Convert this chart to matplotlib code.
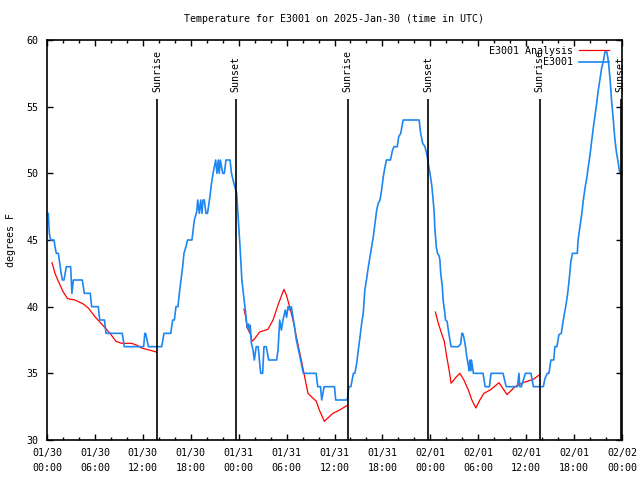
import numpy as np
import matplotlib
matplotlib.use('Agg')
import matplotlib.pyplot as plt
from matplotlib.ticker import MultipleLocator

# hours since 2025-01-30 00:00 UTC
tick_hours = [0, 6, 12, 18, 24, 30, 36, 42, 48, 54, 60, 66, 72]
tick_labels = ['01/30\n00:00', '01/30\n06:00', '01/30\n12:00', '01/30\n18:00',
               '01/31\n00:00', '01/31\n06:00', '01/31\n12:00', '01/31\n18:00',
               '02/01\n00:00', '02/01\n06:00', '02/01\n12:00', '02/01\n18:00',
               '02/02\n00:00']

sun_hours = [13.77, 23.65, 37.67, 47.7, 61.7, 71.85]
sun_labels = ['Sunrise', 'Sunset', 'Sunrise', 'Sunset', 'Sunrise', 'Sunset']

obs_hours = [0.0, 0.16, 0.29, 0.46, 0.88, 1.0, 1.17, 1.42, 1.59, 1.71, 1.92, 2.13, 2.42, 2.96,
             3.12, 3.3, 4.42, 4.67, 5.42, 5.59, 6.42, 6.6, 7.2, 7.39, 9.43, 9.68, 12.1, 12.25,
             12.35, 12.7, 14.36, 14.65, 15.49, 15.74, 15.95, 16.15, 16.4, 16.57, 16.78, 16.99,
             17.15, 17.4, 17.6, 18.15, 18.3, 18.45, 18.74, 18.87, 19.07, 19.25, 19.4, 19.54,
             19.7, 19.9, 20.1, 20.4, 20.6, 20.8, 21.12, 21.29, 21.45, 21.57, 21.7, 22.0, 22.2,
             22.41, 22.92, 23.1, 23.4, 23.75, 23.96, 24.17, 24.4, 24.67, 24.83, 24.96, 25.1,
             25.25, 25.35, 25.45, 25.59, 25.8, 25.96, 26.2, 26.45, 26.67, 26.76, 27.0, 27.17,
             27.45, 27.76, 28.76, 28.93, 29.14, 29.35, 29.55, 29.84, 30.0, 30.18, 30.4, 30.6,
             30.8, 31.0, 31.22, 31.5, 31.76, 31.93, 32.1, 33.7, 33.9, 34.25, 34.4, 34.7, 36.0,
             36.15, 37.6, 37.8, 38.05, 38.28, 38.37, 38.55, 38.78, 38.98, 39.2, 39.4, 39.6,
             39.8, 40.0, 40.24, 40.45, 40.66, 40.86, 41.07, 41.28, 41.48, 41.7, 41.9, 42.11,
             42.3, 42.5, 43.0, 43.27, 43.45, 43.86, 44.04, 44.29, 44.6, 46.6, 46.79, 47.04,
             47.33, 47.62, 47.8, 47.96, 48.2, 48.46, 48.58, 48.75, 48.9, 49.1, 49.2, 49.3,
             49.5, 49.6, 49.8, 49.9, 50.1, 50.25, 50.38, 50.6, 51.5, 51.8, 51.95, 52.05, 52.2,
             52.4, 52.6, 52.76, 52.85, 52.95, 53.05, 53.15, 53.4, 54.6, 54.86, 55.4, 55.6,
             57.1, 57.5, 58.9, 59.1, 59.2, 59.4, 59.9, 60.6, 60.9, 62.15, 62.35, 62.65, 62.85,
             63.1, 63.45, 63.6, 63.85, 64.1, 64.4, 64.65, 64.95, 65.2, 65.4, 65.6, 65.8, 66.4,
             66.5, 66.74, 66.95, 67.16, 67.37, 67.58, 67.78, 68.0, 68.2, 68.4, 68.6, 68.8,
             69.0, 69.25, 69.45, 69.66, 69.87, 70.1, 70.3, 70.5, 70.7, 70.9, 71.1, 71.3, 71.5,
             71.7]
obs_temps = [47.0, 47.0, 45.5, 45.0, 45.0, 44.5, 44.0, 44.0, 43.25, 42.75, 42.0, 42.0, 43.0, 43.0,
             41.0, 42.0, 42.0, 41.0, 41.0, 40.0, 40.0, 39.0, 39.0, 38.0, 38.0, 37.0, 37.0, 38.0,
             38.0, 37.0, 37.0, 38.0, 38.0, 39.0, 39.0, 40.0, 40.0, 41.0, 42.0, 43.0,
             44.0, 44.5, 45.0, 45.0, 45.75, 46.5, 47.1, 48.0, 47.0, 48.0, 47.0, 48.0,
             48.0, 47.0, 47.0, 48.25, 49.25, 50.0, 51.0, 50.0, 51.0, 50.0, 51.0, 50.0, 50.0,
             51.0, 51.0, 50.0, 49.25, 48.5, 46.5, 44.5, 42.0, 40.6, 39.75, 39.0, 38.4,
             38.7, 38.2, 38.6, 37.25, 36.75, 36.0, 37.0, 37.0, 35.5, 35.0, 35.0, 37.0,
             37.0, 36.0, 36.0, 36.75, 39.0, 38.25, 39.0, 39.75, 39.2, 40.0, 39.75, 40.0,
             39.2, 38.5, 37.5, 36.75, 36.0, 35.5, 35.0, 35.0, 34.0, 34.0, 33.0, 34.0, 34.0,
             33.0, 33.0, 34.0, 34.0, 34.75, 35.0, 35.0, 35.75, 36.75, 37.75, 38.75, 39.5,
             41.25, 42.0, 43.0, 43.75, 44.5, 45.25, 46.25, 47.25, 47.75, 48.0, 48.75, 49.75,
             50.4, 51.0, 51.0, 51.75, 52.0, 52.0, 52.75, 53.0, 54.0, 54.0, 53.0, 52.25,
             52.0, 51.25, 50.5, 50.0, 49.0, 47.25, 45.75, 44.5, 44.0, 43.8, 43.5, 42.5,
             41.5, 40.5, 39.6, 39.0, 38.9, 38.25, 37.75, 37.0, 37.0, 37.2, 38.0, 38.0, 37.7,
             37.0, 36.1, 35.6, 35.2, 36.0, 35.2, 36.0, 35.0, 35.0, 34.0, 34.0, 35.0,
             35.0, 34.0, 34.0, 35.0, 34.0, 34.0, 35.0, 35.0, 34.0, 34.0, 34.6, 35.0, 35.0,
             36.0, 36.0, 37.0, 37.0, 37.9, 38.0, 39.0, 40.0, 41.0, 42.1, 43.4, 44.0, 44.0,
             45.0, 46.0, 46.9, 48.0, 48.9, 49.6, 50.5, 51.4, 52.4, 53.4, 54.25, 55.1,
             56.1, 57.1, 57.9, 58.4, 59.1, 59.1, 58.4, 57.1, 55.4, 54.1, 52.6, 51.6, 50.9,
             50.1]

# analysis series, nan separates the three runs
ana_hours = [0.63, 1.0, 1.42, 2.04, 2.58, 3.5, 4.55, 5.17, 6.0, 6.84, 7.89, 8.64, 9.35, 10.6,
             11.3, 11.86, 13.7, np.nan,
             24.67, 24.88, 25.04, 25.5, 25.67, 26.0, 26.63, 27.67, 28.3, 29.0, 29.67, 29.96,
             30.38, 30.8, 31.22, 31.84, 32.26, 32.68, 33.1, 33.72, 34.1, 34.73, 35.8, 36.65,
             37.6, np.nan,
             48.63, 49.0, 49.4, 49.75, 50.05, 50.35, 50.6, 51.2, 51.7, 52.2, 52.76, 53.2, 53.7,
             54.2, 54.7, 55.5, 56.6, 57.6, 58.6, 59.6, 60.9, 61.7]
ana_temps = [43.3, 42.5, 41.9, 41.1, 40.6, 40.5, 40.2, 39.9, 39.25, 38.7, 38.0, 37.4, 37.25, 37.25,
             37.1, 36.9, 36.6, np.nan,
             39.8, 39.25, 38.45, 37.9, 37.4, 37.6, 38.1, 38.3, 39.0, 40.25, 41.3, 40.9,
             40.0, 39.0, 37.75, 36.0, 34.75, 33.5, 33.25, 32.9, 32.25, 31.4, 32.0, 32.25,
             32.6, np.nan,
             39.6, 38.75, 38.0, 37.4, 36.25, 35.25, 34.25, 34.7, 35.0, 34.5, 33.75, 33.0, 32.4,
             33.0, 33.5, 33.75, 34.3, 33.4, 34.0, 34.3, 34.55, 34.9]

plt.rcParams['font.family'] = ['DejaVu Sans Mono']
plt.rcParams['font.size'] = 7.2

fig = plt.figure(figsize=(6.4, 4.8), dpi=100)
ax = fig.add_axes([47/640, 1-440/480, 575/640, 400/480])

ax.plot(ana_hours, ana_temps, color='#ff0000', lw=0.9, label='E3001 Analysis')
ax.plot(obs_hours, obs_temps, color='#1e86f0', lw=1.2, label='E3001')

for h, lbl in zip(sun_hours, sun_labels):
    ax.vlines(h, 30, 55.6, color='black', lw=1.2)
    ax.text(h, 56.1, lbl, rotation=90, ha='center', va='bottom')

ax.set_xlim(0, 72)
ax.set_ylim(30, 60)
ax.set_xticks(tick_hours)
ax.set_xticklabels(tick_labels)
for t in ax.get_xticklabels():
    t.set_linespacing(1.55)
ax.xaxis.set_minor_locator(MultipleLocator(2))
ax.set_yticks(np.arange(30, 61, 5))
ax.tick_params(which='both', direction='in', top=True, right=True, width=1.0)
ax.tick_params(which='major', length=4, pad=6)
ax.tick_params(which='minor', length=2)
for sp in ax.spines.values():
    sp.set_linewidth(1.2)

ax.set_ylabel('degrees F', labelpad=8)
ax.set_title('Temperature for E3001 on 2025-Jan-30 (time in UTC)', fontsize=7.2, pad=13)

ax.legend(loc='upper right', bbox_to_anchor=(0.985, 0.995), frameon=False,
          markerfirst=False, handlelength=3.0, labelspacing=0.15, handletextpad=0.6,
          borderaxespad=0)

fig.savefig('out.png', dpi=100)
